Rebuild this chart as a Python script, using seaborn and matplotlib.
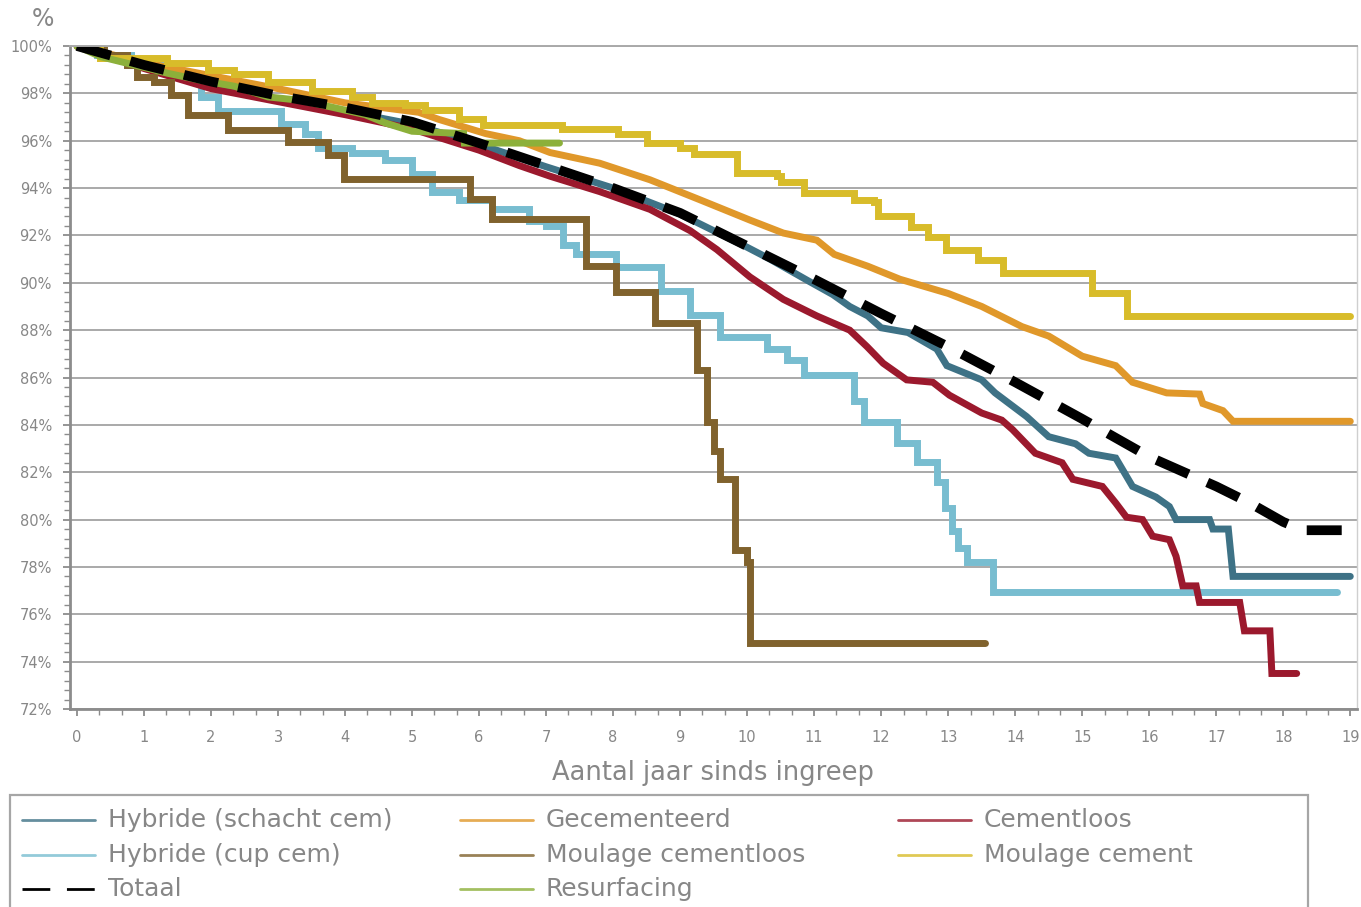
import matplotlib
matplotlib.use("Agg")
import numpy as np
import pandas as pd
import seaborn as sns
import matplotlib.pyplot as plt
from matplotlib.lines import Line2D
from matplotlib.patches import Rectangle
from matplotlib.ticker import MultipleLocator, FuncFormatter

# ---------------- data ----------------
# Hybride (schacht cem)
t_schacht = [0, 1, 2, 3, 4, 5, 6, 7, 8, 9, 10, 10.34, 10.9, 11.28, 11.53, 11.8, 12.0, 12.4,
             12.83, 12.98, 13.5, 13.7, 14.17, 14.5, 14.9, 15.1, 15.5, 15.75, 16.1, 16.3, 16.4,
             16.9, 16.95, 17.18, 17.25, 19.0]
v_schacht = [100, 99.1, 98.35, 97.75, 97.25, 96.7, 95.85, 94.9, 94.0, 92.9, 91.5, 91.0, 90.1,
             89.5, 89.0, 88.6, 88.1, 87.9, 87.2, 86.5, 85.9, 85.35, 84.35, 83.5, 83.2, 82.8,
             82.6, 81.4, 80.95, 80.55, 80.0, 80.0, 79.6, 79.6, 77.6, 77.6]

# Hybride (cup cem)  (step data: value holds from t until next t)
t_cup = [0, 0.3, 0.8, 1.3, 1.65, 1.85, 2.1, 3.05, 3.4, 3.6, 4.1, 4.6, 5.0, 5.3, 5.7, 6.2, 6.75,
         7.0, 7.25, 7.45, 8.05, 8.72, 9.15, 9.6, 10.3, 10.6, 10.85, 11.6, 11.75, 12.23, 12.53,
         12.83, 12.95, 13.05, 13.15, 13.28, 13.67, 18.8]
v_cup = [100, 99.6, 99.2, 98.85, 98.6, 97.85, 97.25, 96.7, 96.3, 95.7, 95.5, 95.2, 94.6, 93.85,
         93.5, 93.1, 92.6, 92.4, 91.6, 91.2, 90.65, 89.65, 88.65, 87.7, 87.2, 86.75, 86.1, 85.0,
         84.1, 83.25, 82.45, 81.6, 80.5, 79.5, 78.8, 78.2, 76.95, 76.95]

# Totaal
t_tot = [0, 1, 2, 3, 4, 5, 6, 7, 8, 9, 10, 11, 12, 13, 14, 15, 16, 17, 17.5, 18, 18.3, 19.0]
v_tot = [100, 99.2, 98.5, 97.9, 97.4, 96.8, 95.9, 94.95, 94.0, 92.95, 91.55, 90.15, 88.7, 87.3,
         85.8, 84.25, 82.65, 81.4, 80.7, 79.9, 79.55, 79.55]

# Gecementeerd
t_gec = [0, 1, 2, 3, 4, 5.1, 5.4, 6.1, 6.6, 7.06, 7.8, 8.55, 9.3, 10.04, 10.54, 11.04, 11.3,
         11.8, 12.28, 13.0, 13.5, 14.1, 14.5, 15.0, 15.5, 15.75, 16.26, 16.75, 16.8, 17.1,
         17.25, 19.0]
v_gec = [100, 99.3, 98.75, 98.2, 97.6, 97.2, 96.9, 96.3, 96.0, 95.5, 95.05, 94.35, 93.5, 92.65,
         92.1, 91.8, 91.2, 90.7, 90.15, 89.55, 89.0, 88.15, 87.75, 86.9, 86.5, 85.8, 85.35,
         85.3, 84.9, 84.6, 84.15, 84.15]

# Moulage cementloos (step data)
t_mcl = [0, 0.4, 0.75, 0.9, 1.15, 1.4, 1.65, 2.25, 3.15, 3.75, 3.98, 5.87, 6.2, 7.6, 8.05,
         8.62, 9.25, 9.4, 9.5, 9.6, 9.82, 10.0, 10.05, 13.55]
v_mcl = [100, 99.6, 99.2, 98.7, 98.5, 97.95, 97.1, 96.45, 95.95, 95.4, 94.4, 93.55, 92.7, 90.7,
         89.6, 88.3, 86.3, 84.1, 82.9, 81.7, 78.7, 78.2, 74.8, 74.8]

# Resurfacing
t_res = [0, 0.35, 0.85, 1.35, 1.85, 2.35, 2.85, 3.35, 3.83, 4.3, 4.6, 5.0, 5.77, 5.78, 7.2]
v_res = [100, 99.55, 99.2, 98.85, 98.55, 98.3, 97.85, 97.7, 97.4, 97.1, 96.75, 96.4, 96.3,
         95.9, 95.9]

# Cementloos
t_cl = [0, 1, 2, 3, 4, 5, 6, 6.6, 7.06, 7.8, 8.55, 9.15, 9.55, 10.04, 10.54, 11.04, 11.53,
        11.79, 12.03, 12.38, 12.77, 13.02, 13.5, 13.8, 13.96, 14.3, 14.7, 14.86, 15.3, 15.5,
        15.66, 15.9, 16.05, 16.3, 16.4, 16.5, 16.7, 16.75, 17.35, 17.42, 17.8, 17.83, 18.2]
v_cl = [100, 99.05, 98.2, 97.65, 97.1, 96.5, 95.6, 94.95, 94.5, 93.85, 93.1, 92.2, 91.4, 90.25,
        89.3, 88.6, 88.0, 87.3, 86.6, 85.9, 85.8, 85.25, 84.5, 84.2, 83.8, 82.8, 82.4, 81.7,
        81.4, 80.7, 80.1, 80.0, 79.3, 79.15, 78.45, 77.2, 77.2, 76.5, 76.5, 75.3, 75.3, 73.5,
        73.5]

# Moulage cement (step data)
t_mc = [0, 0.35, 1.35, 1.95, 2.35, 2.85, 3.5, 4.1, 4.4, 4.9, 5.2, 5.7, 6.06, 7.23, 8.08, 8.5,
        9.0, 9.2, 9.85, 10.45, 10.5, 10.85, 11.6, 11.9, 11.96, 12.45, 12.7, 12.97, 13.45,
        13.82, 15.15, 15.67, 19.0]
v_mc = [100, 99.5, 99.3, 99.0, 98.8, 98.5, 98.1, 97.85, 97.6, 97.5, 97.3, 96.9, 96.65, 96.5,
        96.3, 95.9, 95.7, 95.45, 94.65, 94.5, 94.25, 93.8, 93.5, 93.4, 92.8, 92.35, 91.95, 91.4,
        90.95, 90.4, 89.55, 88.6, 88.6]

x_ticks = list(range(0, 20))
y_ticks = list(range(72, 101, 2))

labels = ["Hybride (schacht cem)", "Hybride (cup cem)", "Totaal",
          "Gecementeerd", "Moulage cementloos", "Resurfacing",
          "Cementloos", "Moulage cement"]
colors = {"Hybride (schacht cem)": "#3E7286", "Hybride (cup cem)": "#78BDD0",
          "Totaal": "#000000", "Gecementeerd": "#E0982A", "Moulage cementloos": "#80622D",
          "Resurfacing": "#8CB03A", "Cementloos": "#9B192D", "Moulage cement": "#D8BC2A"}

# ---------------- figure ----------------
sns.set_theme(style="white")
plt.rcParams["font.family"] = ["DejaVu Sans"]
GRAY = "#878787"

W, H = 1361, 907
fig = plt.figure(figsize=(W / 100, H / 100), dpi=100)
ax = fig.add_axes([70 / W, 1 - 709 / H, 1287 / W, 663 / H])

series = [
    ("Hybride (cup cem)", t_cup, v_cup, "steps-post"),
    ("Hybride (schacht cem)", t_schacht, v_schacht, "default"),
    ("Cementloos", t_cl, v_cl, "default"),
    ("Gecementeerd", t_gec, v_gec, "default"),
    ("Moulage cementloos", t_mcl, v_mcl, "steps-post"),
    ("Moulage cement", t_mc, v_mc, "steps-post"),
    ("Resurfacing", t_res, v_res, "default"),
]
for name, t, v, ds in series:
    df = pd.DataFrame({"t": t, "v": v})
    sns.lineplot(data=df, x="t", y="v", ax=ax, sort=False, estimator=None,
                 color=colors[name], lw=5, drawstyle=ds, solid_capstyle="round",
                 solid_joinstyle="miter")

df_tot = pd.DataFrame({"t": t_tot, "v": v_tot})
sns.lineplot(data=df_tot, x="t", y="v", ax=ax, sort=False, estimator=None,
             color="black", lw=7, linestyle=(0, (3.6, 2.1)), dash_capstyle="butt")

ax.set_xlim(-0.104, 19.1)
ax.set_ylim(72, 100)
ax.xaxis.set_major_locator(MultipleLocator(1))
ax.xaxis.set_minor_locator(MultipleLocator(1 / 3))
ax.yaxis.set_major_locator(MultipleLocator(2))
ax.yaxis.set_minor_locator(MultipleLocator(0.4))
ax.yaxis.set_major_formatter(FuncFormatter(lambda v, p: f"{v:.0f}%"))
ax.xaxis.set_major_formatter(FuncFormatter(lambda v, p: f"{v:.0f}"))
ax.set_xlabel("")
ax.set_ylabel("")

ax.tick_params(axis="both", which="both", direction="out", bottom=True, left=True,
               color="#8c8c8c", labelcolor=GRAY, labelsize=10.5)
ax.tick_params(axis="both", which="major", length=5, width=1.3)
ax.tick_params(axis="both", which="minor", length=4, width=1.0)
ax.tick_params(axis="y", which="major", pad=8)
ax.tick_params(axis="x", which="major", pad=10)

ax.yaxis.grid(True, which="major", color="#a9a9a9", lw=1.4)
ax.xaxis.grid(False)
ax.set_axisbelow(True)

for s in ("left", "bottom"):
    ax.spines[s].set_color("#8c8c8c")
    ax.spines[s].set_linewidth(2.0)
ax.spines["top"].set_color("#a9a9a9")
ax.spines["top"].set_linewidth(1.4)
ax.spines["right"].set_color("#cfcfcf")
ax.spines["right"].set_linewidth(1.0)

fig.text(43 / W, 1 - 19 / H, "%", fontsize=17, color=GRAY, ha="center", va="center")
fig.text(713 / W, 1 - 773 / H, "Aantal jaar sinds ingreep", fontsize=18.5, color=GRAY,
         ha="center", va="center")

# ---------------- legend ----------------
fig.add_artist(Rectangle((10 / W, -0.05), 1298 / W, (1 - 795 / H) + 0.05,
                         transform=fig.transFigure, fill=False, edgecolor="#a6a6a6",
                         lw=1.6))
col_x = [22, 460, 898]
row_y = [820, 855, 889]
for i, name in enumerate(labels):
    c, r = divmod(i, 3)
    x0 = col_x[c]
    y = 1 - row_y[r] / H
    if name == "Totaal":
        ln = Line2D([x0 / W, (x0 + 73) / W], [y, y], transform=fig.transFigure,
                    color="black", lw=2.0, linestyle=(0, (10, 6)), dash_capstyle="butt")
    else:
        ln = Line2D([x0 / W, (x0 + 73) / W], [y, y], transform=fig.transFigure,
                    color=colors[name], lw=2.0, alpha=0.8)
    fig.add_artist(ln)
    fig.text((x0 + 86) / W, y, name, fontsize=18, color=GRAY, ha="left", va="center")

fig.savefig("out.png", dpi=100)
